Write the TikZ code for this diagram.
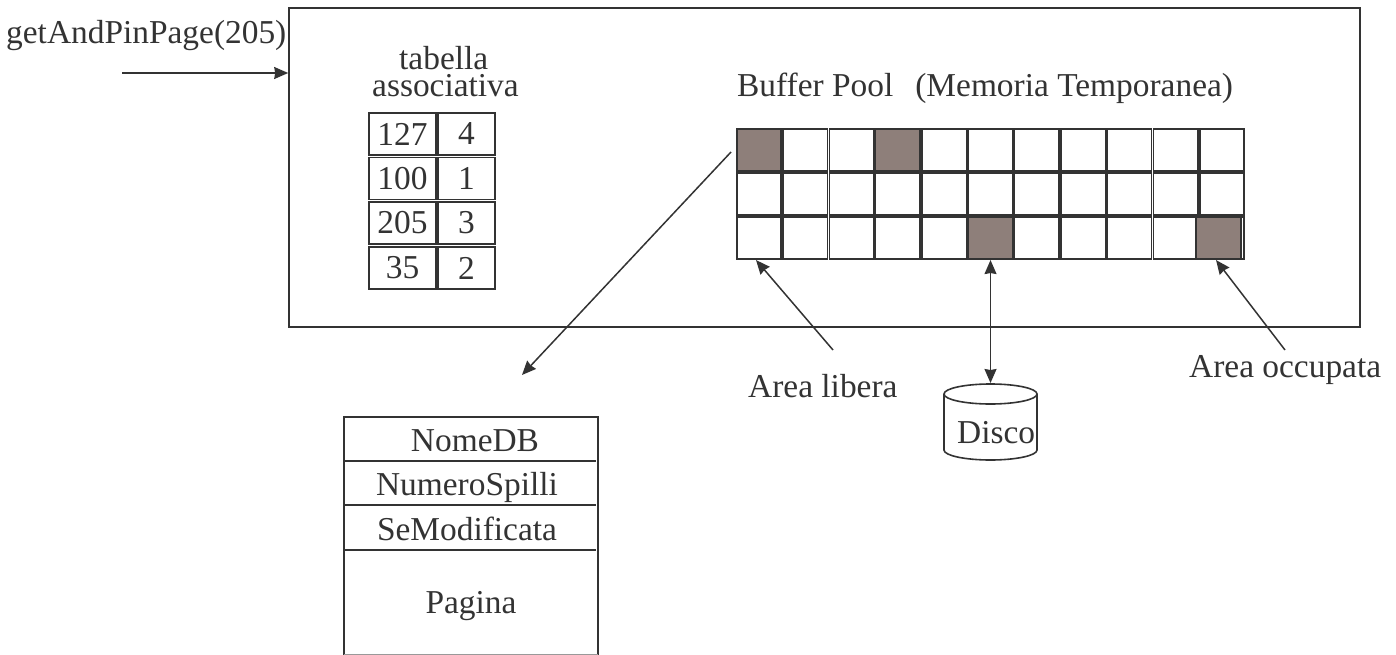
\documentclass[tikz,border=0pt]{standalone}
\usepackage{fontspec}
\setmainfont{Liberation Serif}
\usetikzlibrary{arrows.meta}
\definecolor{ink}{HTML}{333333}
\definecolor{used}{HTML}{8E7F7A}
\tikzset{
  lbl/.style={text=ink, font=\fontsize{33.4}{27}\selectfont, inner sep=0pt, anchor=base west},
  mid/.style={text=ink, font=\fontsize{33.4}{33.4}\selectfont, inner sep=0pt, anchor=base},
  box/.style={draw=ink, line width=1.6pt, inner sep=0pt},
  slot/.style={box, minimum width=44.5pt, minimum height=42.5pt},
  usedslot/.style={slot, fill=used},
  tabcell/.style={box, minimum height=42pt, text=ink, font=\fontsize{33.4}{33.4}\selectfont},
  arr/.style={draw=ink, line width=1.5pt, -{Stealth[length=14pt,width=12pt,inset=1pt]}},
  arrb/.style={draw=ink, line width=1.5pt, {Stealth[length=14pt,width=12pt,inset=1pt]}-{Stealth[length=14pt,width=12pt,inset=1pt]}},
  rule/.style={draw=ink, line width=1.6pt}
}

\begin{document}
\begin{tikzpicture}[x=1pt,y=-1pt]
\useasboundingbox (0,0) rectangle (1396,655);
% outer frame
\node[box, minimum width=1071pt, minimum height=319pt] (frame) at (824.5,167.5) {};
\node[lbl] (call) at (6,43.5) {getAndPinPage(205)};
\coordinate (callin) at (122,73);
\draw[arr] (callin) -- (frame.west |- callin);

% table
\node[lbl, align=left] (tabname) at (372,97) {\hspace{27pt}tabella\\associativa};
\foreach \r/\y/\k/\v in {0/134/127/4, 1/178.5/100/1, 2/223/205/3, 3/268/35/2}{
  \node[tabcell, minimum width=67pt] (key\r) at (402.5,\y) {\k};
  \node[tabcell, minimum width=56.5pt] (val\r) at (466.5,\y) {\v};
}

% buffer pool
\node[lbl] (pool) at (737,97) {Buffer Pool\hspace{22pt}(Memoria Temporanea)};
\foreach \r in {0,1,2}
  \foreach \c in {0,...,10}{
    \node[slot] (s\r\c) at ({759+46.3*\c},{150+44*\r}) {};
  }
\node[usedslot] (u0) at (s00) {};
\node[usedslot] (u1) at (s03) {};
\node[usedslot] (u2) at (s25) {};
\node[usedslot] (u3) at (1218.5,238) {};
\draw[rule] (1244,216)--(1244,230);

% page
\draw[rule] (344,655)--(344,417)--(598,417)--(598,655);
\draw[rule] (344,461)--(596,461);
\draw[rule] (344,505)--(596,505);
\draw[rule] (344,550)--(596,550);
\draw[line width=0.8pt, draw=ink!50] (344,654.5)--(598,654.5);
\node[mid] (nome) at (475,451) {NomeDB};
\node[mid] (spilli) at (467,495) {NumeroSpilli};
\node[mid] (segno) at (467,540) {SeModificata};
\node[mid] (pagina) at (471,613) {Pagina};
\coordinate (pgfrom) at (731,152);
\coordinate (pgto) at (522,375);
\draw[arr] (pgfrom) -- (pgto);

% notes
\node[lbl] (libera) at (748,397.5) {Area libera};
\node[lbl] (occupata) at (1189,377) {Area occupata};
\coordinate (liberafrom) at (833,350);
\coordinate (occfrom) at (1285,350);
\draw[arr] (liberafrom) -- (s20.south -| 756,0);
\draw[arr] (occfrom) -- (u3.south -| 1216,0);

% disk
\coordinate (disctop) at (990.5,383);
\draw[rule] (990.5,394) ellipse [x radius=46.5, y radius=10];
\draw[rule] (944,394) -- (944,450) arc [start angle=180, end angle=0, x radius=46.5, y radius=10] -- (1037,394);
\node[lbl] (disco) at (957,443) {Disco};
\draw[arrb] (s25.south) -- (disctop);
\end{tikzpicture}
\end{document}
